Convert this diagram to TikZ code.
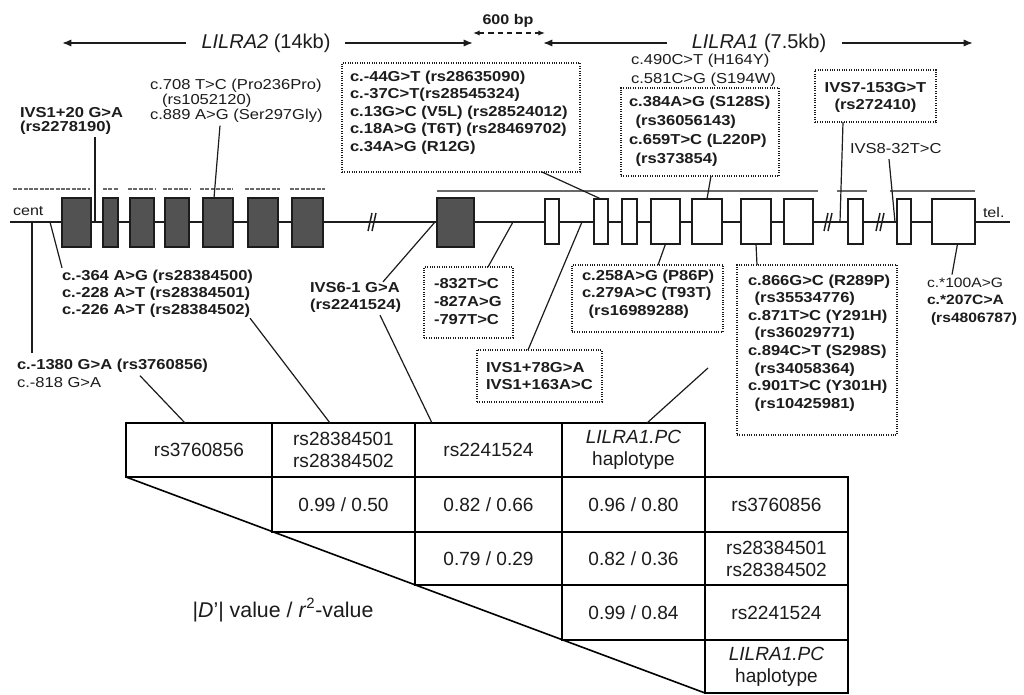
\documentclass[tikz,border=0pt]{standalone}
\usepackage{fontspec}
\setmainfont{Liberation Sans}
\newfontfamily\lbl[FakeStretch=1.15]{Liberation Sans}
\usetikzlibrary{calc,arrows.meta}
\definecolor{ink}{RGB}{28,28,28}
\definecolor{exfill}{RGB}{82,82,82}
\definecolor{gline}{RGB}{105,105,105}
\newcommand{\labfont}{\lbl\fontsize{10.8}{13.2}\selectfont}
\begin{document}
\begin{tikzpicture}[x=0.75pt,y=-0.75pt,
 every node/.style={inner sep=0pt,outer sep=0pt,text=ink},
 lab/.style={font=\labfont\bfseries,align=left,anchor=west},
 labn/.style={font=\labfont,align=left,anchor=west},
 dbox/.style={draw=ink,densely dotted,line width=0.8pt},
 conn/.style={draw=ink,line width=0.9pt},
 exd/.style={draw=ink,line width=0.8pt,fill=exfill,minimum height={49*0.75pt}},
 exw/.style={draw=ink,line width=0.9pt,fill=white,minimum height={45*0.75pt}},
 tarr/.style={draw=ink,line width=1.3pt,-{Latex[length=7pt,width=5.5pt]}},
 title/.style={font=\fontsize{15}{17}\selectfont},
 cell/.style={draw=black,line width=1.2pt,font=\fontsize{14.3}{16.5}\selectfont,align=center},
 brk/.style={draw=ink,line width=1.1pt},
 gseg/.style={draw=gline,line width=1.6pt}]
\fill[white] (0,0) rectangle (1024,695);
\useasboundingbox (0,0) rectangle (1024,695);

% ---- top gene span arrows
\node[title] (t2) at (266,43) {\textit{LILRA2} (14kb)};
\node[title] (t1) at (759,43) {\textit{LILRA1} (7.5kb)};
\coordinate (a2L) at (62,43); \coordinate (a2R) at (473,43);
\coordinate (a1L) at (543,43); \coordinate (a1R) at (973,43);
\draw[tarr] ($(t2.west)+(-16,0)$) -- (a2L);
\draw[tarr] ($(t2.east)+(15,0)$) -- (a2R);
\draw[tarr] ($(t1.west)+(-25,0)$) -- (a1L);
\draw[tarr] ($(t1.east)+(16,0)$) -- (a1R);
\node[font=\lbl\bfseries\fontsize{10.5}{12}\selectfont] (bp) at (508,21) {600 bp};
\coordinate (bpL) at (473,33); \coordinate (bpR) at (545,33);
\draw[draw=ink,line width=1pt,dash pattern=on 4pt off 3pt,{Latex[length=5pt,width=4pt]}-{Latex[length=5pt,width=4pt]}] (bpL) -- (bpR);

% ---- grey lines above exons
\foreach \a/\b in {13/90,103/118,128/155,163/190,200/233,245/280,290/325}
  \draw[gseg,dash pattern=on 3pt off 1pt] (\a,189) -- (\b,189);
\foreach \a/\b in {437/818,837/867,890/975}
  \draw[gseg] (\a,191) -- (\b,191);

% ---- backbone
\coordinate (cen) at (10,222); \coordinate (tel) at (1010,222);
\draw[draw=ink,line width=1.1pt] (cen) -- (tel);
\node[font=\lbl\fontsize{10.5}{12}\selectfont,anchor=west] (centlab) at (13,211) {cent};
\node[font=\lbl\fontsize{10.5}{12}\selectfont,anchor=west] (tellab) at (983,212) {tel.};

% ---- exons
\foreach \n/\a/\b in {e1/62/91,e2/103/118,e3/130/154,e4/165/189,e5/203/233,e6/248/278,e7/292/323,e8/437/474}
  \node[exd,minimum width={(\b-\a)*0.75pt}] (\n) at ({(\a+\b)/2},222.5) {};
\foreach \n/\a/\b in {wa/545/559,wb/594/608,wc/622/637,wd/651/680,we/692/722,wf/741/771,wg/784/813,wh/848/863,wi/897/911,wj/932/975}
  \node[exw,minimum width={(\b-\a)*0.75pt}] (\n) at ({(\a+\b)/2},221.5) {};

% ---- break marks
\foreach \x in {372,828,880} {
  \draw[brk] ({\x-4},231) -- (\x,213);
  \draw[brk] (\x,231) -- ({\x+4},213);
}

% ---- upper labels
\node[lab] (n1) at (20,121) {IVS1+20 G>A\\[-3pt](rs2278190)};
\node[labn] (n2) at (150,101) {c.708 T>C (Pro236Pro)\\[-2pt]\hspace*{9pt}(rs1052120)\\[-2pt]c.889 A>G (Ser297Gly)};
\node[labn] (n8) at (631,70.5) {c.490C>T (H164Y)\\[1pt]c.581C>G (S194W)};
\node[labn] (n3) at (850,149) {IVS8-32T>C};

\node[dbox,minimum width={238*0.75pt},minimum height={109*0.75pt}] (b1) at (461,117.5) {};
\node[lab] (b1t) at (350,112.5) {c.-44G>T (rs28635090)\\c.-37C>T(rs28545324)\\c.13G>C (V5L) (rs28524012)\\c.18A>G (T6T) (rs28469702)\\c.34A>G (R12G)};
\node[dbox,minimum width={158*0.75pt},minimum height={88*0.75pt}] (b2) at (700,132) {};
\node[lab] (b2t) at (629,131.5) {c.384A>G (S128S)\\[1pt]\hspace*{5pt}(rs36056143)\\[1pt]c.659T>C (L220P)\\[1pt]\hspace*{5pt}(rs373854)};
\node[dbox,minimum width={121*0.75pt},minimum height={52*0.75pt}] (b3) at (875.5,96) {};
\node[lab,anchor=center,align=center] (b3t) at (875.5,97.5) {IVS7-153G>T\\(rs272410)};

% ---- lower labels
\node[lab] (n4) at (62,293.5) {c.-364 A>G (rs28384500)\\[-0.5pt]c.-228 A>T (rs28384501)\\[-0.5pt]c.-226 A>T (rs28384502)};
\node[lab] (n5a) at (17,366) {c.-1380 G>A (rs3760856)};
\node[labn] (n5b) at (17,383) {c.-818 G>A};
\node[lab] (n6) at (310,297.5) {IVS6-1 G>A\\[-1pt](rs2241524)};
\node[labn,font=\lbl\fontsize{10.2}{12.6}\selectfont] (n7) at (927,301.5) {c.*100A>G\\[0.7pt]\textbf{c.*207C>A}\\[0.7pt]\hspace*{3pt}\textbf{(rs4806787)}};

\node[dbox,minimum width={89*0.75pt},minimum height={71*0.75pt}] (b4) at (468.5,302.5) {};
\node[lab] (b4t) at (434,301.5) {-832T>C\\-827A>G\\-797T>C};
\node[dbox,minimum width={125*0.75pt},minimum height={52*0.75pt}] (b5) at (539.5,376) {};
\node[lab] (b5t) at (486,376) {IVS1+78G>A\\IVS1+163A>C};
\node[dbox,minimum width={151*0.75pt},minimum height={67*0.75pt}] (b6) at (647.5,298.5) {};
\node[lab] (b6t) at (582,294) {c.258A>G (P86P)\\c.279A>C (T93T)\\\hspace*{5pt}(rs16989288)};
\node[dbox,minimum width={160*0.75pt},minimum height={170*0.75pt}] (b7) at (817,350) {};
\node[lab] (b7t) at (748,343) {c.866G>C (R289P)\\\hspace*{5pt}(rs35534776)\\c.871T>C (Y291H)\\\hspace*{5pt}(rs36029771)\\c.894C>T (S298S)\\\hspace*{5pt}(rs34058364)\\c.901T>C (Y301H)\\\hspace*{5pt}(rs10425981)};

% ---- connectors to gene
\coordinate (g1) at (95,222);
\draw[conn] ($(n1.south -| g1)+(0,3)$) -- (g1);
\draw[conn] ($(n2.south west)+(70,3)$) -- ($(e5.north)+(-4,0)$);
\draw[conn] ($(b1.south west)+(200,0)$) -- (wb.north);
\draw[conn] ($(b2.south west)+(90,0)$) -- (we.north);
\coordinate (g3) at (840,222);
\draw[conn] ($(b3.south west)+(28,0)$) -- (g3);
\coordinate (g4) at (895,222);
\draw[conn] ($(n3.south west)+(39,5)$) -- (g4);
\coordinate (g5) at (50,222);
\draw[conn] (g5) -- ($(n4.north west)+(0,-2)$);
\coordinate (g6) at (32,222);
\draw[conn] (g6) -- ($(n5a.north -| g6)+(0,-6)$);
\coordinate (g7) at (435,222);
\draw[conn] (g7) -- ($(n6.north west)+(73,-1)$);
\coordinate (g8) at (513,222);
\draw[conn] (g8) -- ($(b4.north west)+(64,0)$);
\coordinate (g9) at (582,222);
\draw[conn] (g9) -- ($(b5.north west)+(51,0)$);
\draw[conn] (wd.south) -- ($(b6.north west)+(86,0)$);
\draw[conn] (wf.south) -- ($(b7.north west)+(20,0)$);
\draw[conn] ($(wj.south)+(4,0)$) -- ($(n7.north west)+(25,-3)$);

% ---- LD table
\node[cell,minimum width={146*0.75pt},minimum height={54*0.75pt}] (h1) at (199,450) {rs3760856};
\node[cell,minimum width={143*0.75pt},minimum height={54*0.75pt}] (h2) at (343.5,450) {rs28384501\\rs28384502};
\node[cell,minimum width={147*0.75pt},minimum height={54*0.75pt}] (h3) at (488.5,450) {rs2241524};
\node[cell,minimum width={143*0.75pt},minimum height={54*0.75pt}] (h4) at (633.5,450) {\textit{LILRA1.PC}\\haplotype};
\node[cell,minimum width={143*0.75pt},minimum height={55*0.75pt}] (r12) at (343.5,504.5) {0.99 / 0.50};
\node[cell,minimum width={147*0.75pt},minimum height={55*0.75pt}] (r13) at (488.5,504.5) {0.82 / 0.66};
\node[cell,minimum width={143*0.75pt},minimum height={55*0.75pt}] (r14) at (633.5,504.5) {0.96 / 0.80};
\node[cell,minimum width={143*0.75pt},minimum height={55*0.75pt}] (r15) at (776.5,504.5) {rs3760856};
\node[cell,minimum width={147*0.75pt},minimum height={53*0.75pt}] (r23) at (488.5,558.5) {0.79 / 0.29};
\node[cell,minimum width={143*0.75pt},minimum height={53*0.75pt}] (r24) at (633.5,558.5) {0.82 / 0.36};
\node[cell,minimum width={143*0.75pt},minimum height={53*0.75pt}] (r25) at (776.5,558.5) {rs28384501\\rs28384502};
\node[cell,minimum width={143*0.75pt},minimum height={55*0.75pt}] (r34) at (633.5,612.5) {0.99 / 0.84};
\node[cell,minimum width={143*0.75pt},minimum height={55*0.75pt}] (r35) at (776.5,612.5) {rs2241524};
\node[cell,minimum width={143*0.75pt},minimum height={53*0.75pt}] (r45) at (776.5,666.5) {\textit{LILRA1.PC}\\haplotype};
\draw[draw=black,line width=1.2pt] (h1.south west) -- (r45.south west);
\node[font=\fontsize{16}{18}\selectfont] (ldlab) at (283,610) {|\textit{D}'| value / \textit{r}\textsuperscript{2}-value};

% ---- connectors to table
\draw[conn] ($(n5a.south west)+(123,3)$) -- ($(h1.north west)+(59,0)$);
\draw[conn] ($(n4.south west)+(188,1)$) -- ($(h2.north west)+(58,0)$);
\draw[conn] ($(n6.south west)+(70,3)$) -- ($(h3.north west)+(17,0)$);
\coordinate (pcfree) at (708,368);
\draw[conn] ($(h4.north west)+(85,0)$) -- (pcfree);
\end{tikzpicture}
\end{document}
